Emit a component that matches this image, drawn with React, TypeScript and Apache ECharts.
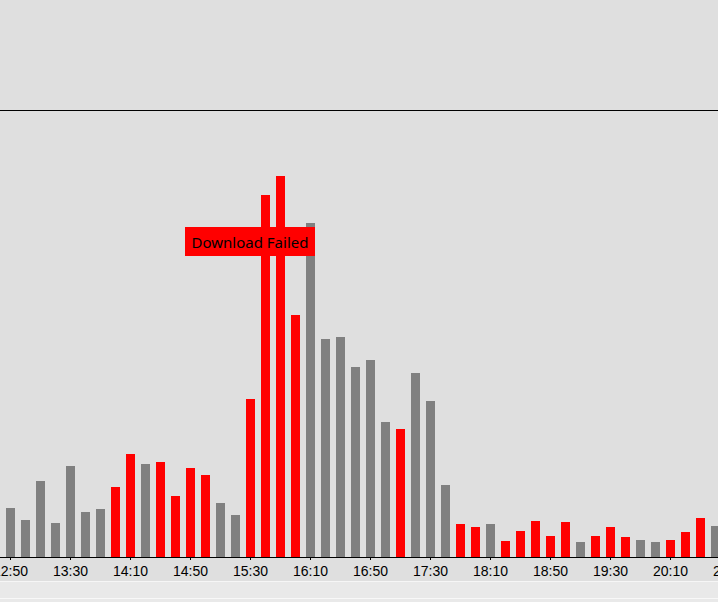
import React, { useEffect, useRef } from "react";
import * as echarts from "echarts";

// time slots, 10 minutes apart
const categories: string[] = [
  "12:40", "12:50", "13:00", "13:10", "13:20", "13:30", "13:40", "13:50", "14:00", "14:10",
  "14:20", "14:30", "14:40", "14:50", "15:00", "15:10", "15:20", "15:30", "15:40", "15:50",
  "16:00", "16:10", "16:20", "16:30", "16:40", "16:50", "17:00", "17:10", "17:20", "17:30",
  "17:40", "17:50", "18:00", "18:10", "18:20", "18:30", "18:40", "18:50", "19:00", "19:10",
  "19:20", "19:30", "19:40", "19:50", "20:00", "20:10", "20:20", "20:30", "20:40", "20:50",
];

// bar values (null = outside the visible window)
const values: (number | null)[] = [
  null, 49, 37, 76, 34, 91, 45, 48, 70, 103,
  93, 95, 61, 89, 82, 54, 42, 158, 362, 381,
  242, 334, 218, 220, 190, 197, 135, 128, 184, 156,
  72, 33, 30, 33, 16, 26, 36, 21, 35, 15,
  21, 30, 20, 17, 15, 17, 25, 39, 31, null,
];

// 1 = failed (red), 0 = ok (grey)
const failed: number[] = [
  0, 0, 0, 0, 0, 0, 0, 0, 1, 1,
  0, 1, 1, 1, 1, 0, 0, 1, 1, 1,
  1, 0, 0, 0, 0, 0, 0, 1, 0, 0,
  0, 1, 1, 0, 1, 1, 1, 1, 1, 0,
  1, 1, 1, 0, 0, 1, 1, 1, 0, 0,
];

const Y_MAX = 447;
const RED = "#ff0000";
const GREY = "#808080";

export default function App() {
  const ref = useRef<HTMLDivElement>(null);
  useEffect(() => {
    if (!ref.current) return;
    const chart = echarts.init(ref.current, null, { renderer: "svg" });
    const labelFn = (i: number) => (i - 1) % 4 === 0;
    chart.setOption({
      animation: false,
      backgroundColor: "#dfdfdf",
      grid: {
        left: -12,
        top: 110,
        width: 15 * categories.length,
        bottom: 45,
        containLabel: false,
        outerBoundsMode: "none",
      },
      xAxis: {
        type: "category",
        data: categories,
        boundaryGap: true,
        axisLine: { show: true, lineStyle: { color: "#000", width: 1 } },
        axisTick: { show: true, alignWithLabel: true, length: 3, interval: labelFn, lineStyle: { color: "#000" } },
        axisLabel: {
          interval: labelFn,
          color: "#000",
          fontSize: 14,
          fontFamily: "Liberation Sans",
          margin: 7,
          hideOverlap: false,
        },
        splitLine: { show: false },
      },
      yAxis: { type: "value", min: 0, max: Y_MAX, show: false, splitLine: { show: false } },
      series: [
        {
          type: "bar",
          barWidth: 9,
          data: values.map((v, i) => ({
            value: v,
            itemStyle: { color: failed[i] ? RED : GREY },
          })),
        },
      ],
      graphic: [
        {
          type: "line",
          shape: { x1: 0, y1: 110.5, x2: 718, y2: 110.5 },
          style: { stroke: "#000", lineWidth: 1 },
          z: 10,
        },
        {
          type: "rect",
          shape: { x: 0, y: 581, width: 718, height: 21 },
          style: { fill: "#e9e9e9" },
          z: 10,
        },
        {
          type: "line",
          shape: { x1: 0, y1: 581.5, x2: 718, y2: 581.5 },
          style: { stroke: "#f6f6f6", lineWidth: 1 },
          z: 11,
        },
        {
          type: "line",
          shape: { x1: 0, y1: 598.5, x2: 718, y2: 598.5 },
          style: { stroke: "#f8f8f8", lineWidth: 1 },
          z: 11,
        },
        {
          type: "group",
          z: 20,
          children: [
            {
              type: "rect",
              shape: { x: 185, y: 227, width: 130, height: 29 },
              style: { fill: RED },
              z: 20,
            },
            {
              type: "text",
              x: 250,
              y: 242,
              style: {
                text: "Download Failed",
                fill: "#000",
                font: "15px 'Noto Sans'",
                align: "center",
                verticalAlign: "middle",
              },
              z: 21,
            },
          ],
        },
      ],
    });
    return () => chart.dispose();
  }, []);
  return (
    <div
      ref={ref}
      style={{ position: "fixed", left: 0, top: 0, width: 718, height: 602 }}
    />
  );
}
